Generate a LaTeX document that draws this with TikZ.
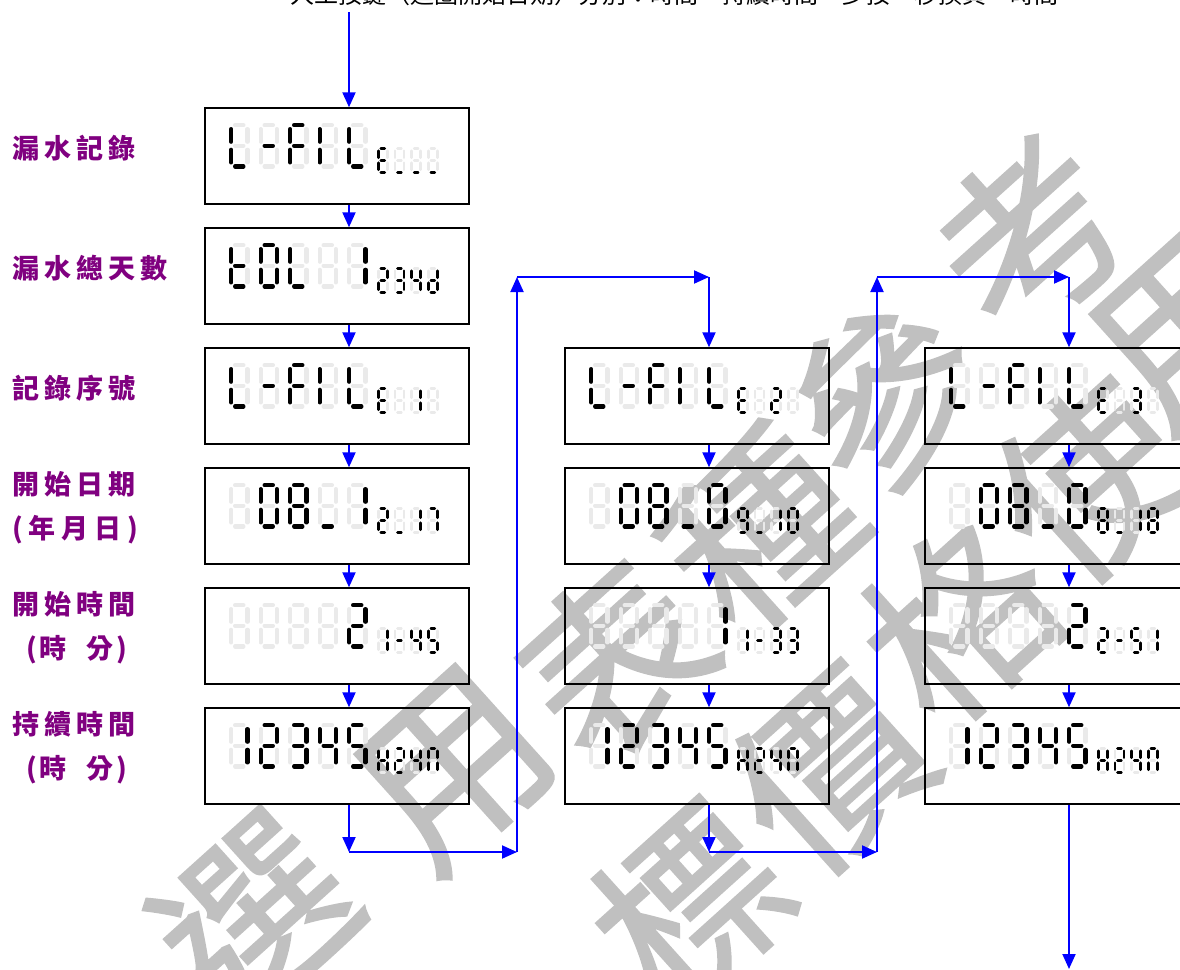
\documentclass[tikz,border=0pt]{standalone}
\usepackage{fontspec}
\newfontfamily\cjk{Noto Sans CJK TC}
\newfontfamily\wmfont{Noto Sans CJK TC}[FakeBold=1.2]
\usetikzlibrary{arrows.meta}
\definecolor{lblpurple}{RGB}{128,0,128}
\definecolor{wmgray}{RGB}{192,192,192}
\definecolor{ghost}{RGB}{234,234,234}
\definecolor{arrowblue}{RGB}{0,0,255}
\tikzset{
 lcdbox/.style={draw=black, line width=1.4pt, minimum width=264pt, minimum height=96pt, inner sep=0pt},
 conn/.style={draw=arrowblue, line width=2pt, -{Triangle[length=15pt,width=13pt]}},
 lbl/.style={anchor=west, inner sep=0pt, text=lblpurple, font=\cjk\bfseries\fontsize{27pt}{27pt}\selectfont},
 wm/.style={text=wmgray, rotate=42, inner sep=0pt, font=\wmfont\fontsize{185pt}{185pt}\selectfont},
 toptext/.style={anchor=base west, inner sep=0pt, text=black, font=\cjk\fontsize{24pt}{24pt}\selectfont},
}
% seven segment glyphs
\def\gb{}\def\gm{g}\def\gu{d}\def\gI{ef}\def\gL{def}\def\gE{adefg}\def\gF{aefg}
\def\gt{defg}\def\gd{bcdeg}\def\gH{bcefg}\def\gn{abcef}\def\gO{abcdef}
\expandafter\def\csname g0\endcsname{abcdef}
\expandafter\def\csname g1\endcsname{bc}
\expandafter\def\csname g2\endcsname{abdeg}
\expandafter\def\csname g3\endcsname{abcdg}
\expandafter\def\csname g4\endcsname{bcfg}
\expandafter\def\csname g5\endcsname{acdfg}
\expandafter\def\csname g7\endcsname{abc}
\expandafter\def\csname g8\endcsname{abcdefg}
\expandafter\def\csname g9\endcsname{abcdfg}
\def\dsega{\draw (\G,0) -- ({\W-\G},0);}
\def\dsegb{\draw (\W,\G) -- (\W,{\H/2-\G});}
\def\dsegc{\draw (\W,{\H/2+\G}) -- (\W,{\H-\G});}
\def\dsegd{\draw (\G,\H) -- ({\W-\G},\H);}
\def\dsege{\draw (0,{\H/2+\G}) -- (0,{\H-\G});}
\def\dsegf{\draw (0,\G) -- (0,{\H/2-\G});}
\def\dsegg{\draw (\G,{\H/2}) -- ({\W-\G},{\H/2});}
\def\litsegs#1{\ifx#1\relax\else\csname dseg#1\endcsname\expandafter\litsegs\fi}
% #1 x, #2 y (ink top-left), #3 ink width, #4 ink height, #5 line width, #6 segments
\newcommand\sdigit[6]{%
 \edef\segstr{#6}%
 \pgfmathsetmacro\hl{#5/2}%
 \begin{scope}[shift={({#1+\hl},{#2+\hl})}, line cap=round, line width=#5pt]
  \pgfmathsetmacro\W{#3-#5}\pgfmathsetmacro\H{#4-#5}\pgfmathsetmacro\G{#5*0.96}%
  \begin{scope}[color=ghost]\litsegs abcdefg\relax\end{scope}
  \begin{scope}[color=black]\expandafter\litsegs\segstr\relax\end{scope}
 \end{scope}}
\newcommand\lcdcontent[4]{%
 \pgfmathsetmacro\bx{#1-132}\pgfmathsetmacro\by{#2-48}%
 \foreach \g [count=\k from 0] in {#3} {%
   \pgfmathsetmacro\dx{\bx+24+29.5*\k}\pgfmathsetmacro\dy{\by+15}%
   \sdigit{\dx}{\dy}{20.5}{45.5}{4.2}{\csname g\g\endcsname}}%
 \foreach \g [count=\k from 0] in {#4} {%
   \pgfmathsetmacro\dx{\bx+172+16.7*\k}\pgfmathsetmacro\dy{\by+39}%
   \sdigit{\dx}{\dy}{11.5}{26.5}{2.6}{\csname g\g\endcsname}}%
}
\begin{document}
\begin{tikzpicture}[x=1pt,y=-1pt]
\fill[white] (0,0) rectangle (1180,969);
\useasboundingbox (0,0) rectangle (1180,969);
% watermark
\node[wm] (w1) at (255,915) {選};
\node[wm] (w2) at (455,770) {用};
\node[wm] (w3) at (615,660) {表};
\node[wm] (w4) at (760,530) {種};
\node[wm] (w5) at (885,395) {參};
\node[wm] (w6) at (1030,235) {考};
\node[wm] (w7) at (690,905) {標};
\node[wm] (w8) at (830,770) {價};
\node[wm] (w9) at (960,620) {格};
\node[wm] (w10) at (1090,480) {使};
\node[wm] (w11) at (1190,330) {用};
% top caption (cut off by the upper edge)
\node[toptext] (cap) at (290,3) {人工按鍵（迴圈開始日期）分別：時間、持續時間，少按一秒換頁，時間};
% labels
\node[lbl] (l1) at (12,148) {漏\kern5pt 水\kern5pt 記\kern5pt 錄};
\node[lbl] (l2) at (12,268) {漏\kern5pt 水\kern5pt 總\kern5pt 天\kern5pt 數};
\node[lbl] (l3) at (12,388) {記\kern5pt 錄\kern5pt 序\kern5pt 號};
\node[lbl] (l4) at (12,484) {開\kern5pt 始\kern5pt 日\kern5pt 期};
\node[lbl] (l4b) at (12,530) {(\kern6pt 年\kern6pt 月\kern6pt 日\kern6pt )};
\node[lbl] (l5) at (12,604) {開\kern5pt 始\kern5pt 時\kern5pt 間};
\node[lbl] (l5b) at (26,650) {(\kern3pt 時\kern20pt 分\kern3pt )};
\node[lbl] (l6) at (12,724) {持\kern5pt 續\kern5pt 時\kern5pt 間};
\node[lbl] (l6b) at (26,770) {(\kern3pt 時\kern20pt 分\kern3pt )};
% boxes
\foreach \c/\x in {1/337,2/697,3/1057}{
  \foreach \r/\y in {1/156,2/276,3/396,4/516,5/636,6/756}{
    \coordinate (p\c\r) at (\x,\y);
  }}
\foreach \r in {1,...,6}{\node[lcdbox] (b1\r) at (p1\r) {};}
\foreach \r in {3,...,6}{\node[lcdbox] (b2\r) at (p2\r) {};}
\foreach \r in {3,...,6}{\node[lcdbox] (b3\r) at (p3\r) {};}
% lcd content
\lcdcontent{337}{156}{L,m,F,I,L}{E,u,u,u}
\lcdcontent{337}{276}{t,O,L,b,1}{2,3,4,d}
\lcdcontent{337}{396}{L,m,F,I,L}{E,b,1,b}
\lcdcontent{337}{516}{b,0,8,u,1}{2,u,1,7}
\lcdcontent{337}{636}{b,b,b,b,2}{1,m,4,5}
\lcdcontent{337}{756}{1,2,3,4,5}{H,2,4,n}
\lcdcontent{697}{396}{L,m,F,I,L}{E,b,2,b}
\lcdcontent{697}{516}{b,0,8,u,0}{9,u,1,0}
\lcdcontent{697}{636}{b,b,b,b,1}{1,m,3,3}
\lcdcontent{697}{756}{1,2,3,4,5}{H,2,4,n}
\lcdcontent{1057}{396}{L,m,F,I,L}{E,b,3,b}
\lcdcontent{1057}{516}{b,0,8,u,0}{8,u,1,8}
\lcdcontent{1057}{636}{b,b,b,b,2}{2,m,5,1}
\lcdcontent{1057}{756}{1,2,3,4,5}{H,2,4,n}
% connectors
\coordinate (start) at (349,12);
\draw[conn] (start) -- ([xshift=12pt]b11.north);
\foreach \a/\b in {1/2,2/3,3/4,4/5,5/6}{
  \draw[conn] ([xshift=12pt]b1\a.south) -- ([xshift=12pt]b1\b.north);}
\foreach \a/\b in {3/4,4/5,5/6}{
  \draw[conn] ([xshift=12pt]b2\a.south) -- ([xshift=12pt]b2\b.north);
  \draw[conn] ([xshift=12pt]b3\a.south) -- ([xshift=12pt]b3\b.north);}
\coordinate (c1) at (349,852);
\coordinate (c2) at (517,852);
\coordinate (c3) at (517,277);
\coordinate (c4) at (709,277);
\draw[conn] ([xshift=12pt]b16.south) -- (c1);
\draw[conn] (c1) -- (c2);
\draw[conn] (c2) -- (c3);
\draw[conn] (c3) -- (c4);
\draw[conn] (c4) -- ([xshift=12pt]b23.north);
\coordinate (d1) at (709,852);
\coordinate (d2) at (877,852);
\coordinate (d3) at (877,277);
\coordinate (d4) at (1069,277);
\draw[conn] ([xshift=12pt]b26.south) -- (d1);
\draw[conn] (d1) -- (d2);
\draw[conn] (d2) -- (d3);
\draw[conn] (d3) -- (d4);
\draw[conn] (d4) -- ([xshift=12pt]b33.north);
\coordinate (fin) at (1069,969);
\draw[conn] ([xshift=12pt]b36.south) -- (fin);
\end{tikzpicture}
\end{document}
